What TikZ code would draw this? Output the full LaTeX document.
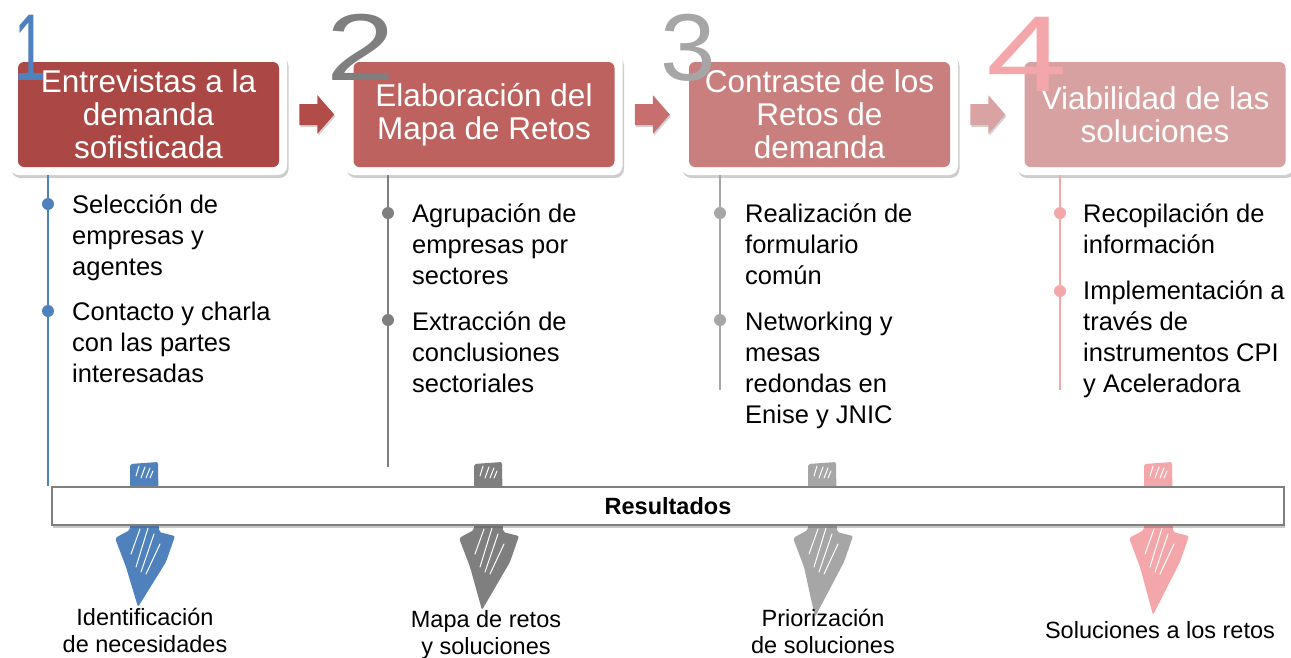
\documentclass[tikz,border=0pt]{standalone}
\usepackage{fontspec}
\setmainfont{Liberation Sans}
\usetikzlibrary{shadows,calc}
\definecolor{cBlue}{HTML}{4F81BD}
\definecolor{cGrayA}{HTML}{7F7F7F}
\definecolor{cGrayB}{HTML}{A6A6A6}
\definecolor{cPink}{HTML}{F4A7AA}
\definecolor{boxA}{HTML}{AB4744}
\definecolor{boxB}{HTML}{BD625F}
\definecolor{boxC}{HTML}{C97F7E}
\definecolor{boxD}{HTML}{D8A1A1}
\definecolor{arrA}{HTML}{B24C49}
\definecolor{arrB}{HTML}{C66F6E}
\definecolor{arrC}{HTML}{D9A2A3}
\tikzset{
  frame/.style={rectangle, rounded corners=9pt, fill=white, minimum width=277pt, minimum height=121pt, inner sep=0pt,
    drop shadow={shadow xshift=1.5pt, shadow yshift=-3pt, opacity=0.28, fill=black!70}},
  stepbox/.style={rectangle, rounded corners=6pt, minimum width=261pt, minimum height=105pt, inner sep=0pt,
    text=white, align=center, font=\fontsize{31.5}{33}\selectfont},
  bullettext/.style={anchor=base west, align=left, inner sep=0pt, font=\fontsize{25.5}{31}\selectfont},
  numtext/.style={anchor=base, inner sep=0pt, font=\fontsize{95}{95}\selectfont},
  blockarrow/.style={drop shadow={shadow xshift=1pt, shadow yshift=-2pt, opacity=0.25, fill=black!70}},
  resultlabel/.style={anchor=base, align=center, inner sep=0pt, font=\fontsize{23.5}{27}\selectfont},
  tline/.style={line width=1.5pt},
}
\begin{document}
\begin{tikzpicture}[x=1pt,y=-1pt]
\useasboundingbox (0,0) rectangle (1291,657);

% ---- sketch arrows (behind the bar)
\foreach \cx/\tipx/\tipy/\col in {144/138/607/cBlue, 488/482/610/cGrayA, 822/815/617/cGrayB, 1158/1153/615/cPink}{
  \coordinate (d) at (\cx,462);
  \fill[\col, rounded corners=2pt] ($(d)+(-14,2)$) -- ($(d)+(14,0)$) -- ($(d)+(15,70)$) -- ($(d)+(31,74)$)
     -- ($(d)+(22,100)$) -- (\tipx,\tipy) -- ($(d)+(-18,105)$) -- ($(d)+(-29,76)$) -- ($(d)+(-14,68)$) -- cycle;
  \draw[white, line width=1pt, line cap=round]
     ($(d)+(-8,14)$) -- ($(d)+(-5,4)$)
     ($(d)+(-3,16)$) -- ($(d)+(1,5)$)
     ($(d)+(2,16)$) -- ($(d)+(6,6)$)
     ($(d)+(6,16)$) -- ($(d)+(9,9)$)
     ($(d)+(-8,105)$) -- ($(d)+(4,66)$)
     ($(d)+(-3,110)$) -- ($(d)+(10,72)$)
     ($(d)+(2,112)$) -- ($(d)+(16,82)$)
     ($(d)+(-13,92)$) -- ($(d)+(-4,67)$);
}

% ---- step boxes
\node[frame] (f1) at (148.5,114.5) {};
\node[frame] (f2) at (484,114.5) {};
\node[frame] (f3) at (819.5,114.5) {};
\node[frame] (f4) at (1155,114.5) {};
\node[stepbox, fill=boxA] (b1) at (f1) {Entrevistas a la\\demanda\\sofisticada};
\node[stepbox, fill=boxB] (b2) at (f2) {Elaboración del\\Mapa de Retos};
\node[stepbox, fill=boxC] (b3) at (f3) {Contraste de los\\Retos de\\demanda};
\node[stepbox, fill=boxD] (b4) at (f4) {Viabilidad de las\\soluciones};

% ---- block arrows between boxes
\foreach \a/\b/\col in {f1/f2/arrA, f2/f3/arrB, f3/f4/arrC}{
  \coordinate (m) at ($(\a.east)!0.5!(\b.west)$);
  \fill[\col, blockarrow] ($(m)+(-17,-10.5)$) -- ($(m)+(1,-10.5)$) -- ($(m)+(1,-19.5)$) -- ($(m)+(18,0)$)
     -- ($(m)+(1,19.5)$) -- ($(m)+(1,10.5)$) -- ($(m)+(-17,10.5)$) -- cycle;
}

% ---- handwritten step numbers
\node[numtext, text=cBlue, xscale=0.6] (n1) at (30,80) {1};
\node[numtext, text=cGrayA, xscale=1.3] (n2) at (361,80) {2};
\node[numtext, text=cGrayB, xscale=1.05] (n3) at (688,80) {3};
\node[numtext, text=cPink, xscale=1.35, font=\fontsize{108}{108}\selectfont] (n4) at (1027,91) {4};

% ---- timelines
\coordinate (l1a) at (48,175); \coordinate (l1b) at (48,486);
\coordinate (l2a) at (388,175); \coordinate (l2b) at (388,467);
\coordinate (l3a) at (720,175); \coordinate (l3b) at (720,390);
\coordinate (l4a) at (1060,175); \coordinate (l4b) at (1060,390);
\draw[tline, cBlue] (l1a) -- (l1b);
\draw[tline, cGrayA] (l2a) -- (l2b);
\draw[tline, cGrayB] (l3a) -- (l3b);
\draw[tline, cPink] (l4a) -- (l4b);
\fill[cBlue] (48,204) circle (6) (48,311) circle (6);
\fill[cGrayA] (388,213) circle (6) (388,320) circle (6);
\fill[cGrayB] (720,213) circle (6) (720,320) circle (6);
\fill[cPink] (1060,213) circle (6) (1060,291) circle (6);

% ---- bullet texts (anchored at the baseline of the last line)
\node[bullettext] (t11) at (72,275) {Selección de\\empresas y\\agentes};
\node[bullettext] (t12) at (72,382) {Contacto y charla\\con las partes\\interesadas};
\node[bullettext] (t21) at (412,284) {Agrupación de\\empresas por\\sectores};
\node[bullettext] (t22) at (412,392) {Extracción de\\conclusiones\\sectoriales};
\node[bullettext] (t31) at (745,284) {Realización de\\formulario\\común};
\node[bullettext] (t32) at (745,423) {Networking y\\mesas\\redondas en\\Enise y JNIC};
\node[bullettext] (t41) at (1083,253) {Recopilación de\\información};
\node[bullettext] (t42) at (1083,392) {Implementación a\\través de\\instrumentos CPI\\y Aceleradora};

% ---- results bar
\node[draw=cGrayA, line width=1.5pt, fill=white, minimum width=1232pt, minimum height=38pt, inner sep=0pt,
  font=\bfseries\fontsize{23.5}{26}\selectfont,
  drop shadow={shadow xshift=1pt, shadow yshift=-2.5pt, opacity=0.3, fill=black!70}] (res) at (668,506) {Resultados};

% ---- result labels (anchored at the baseline of the last line)
\node[resultlabel] (r1) at (145,652) {Identificación\\de necesidades};
\node[resultlabel] (r2) at (486,654) {Mapa de retos\\y soluciones};
\node[resultlabel] (r3) at (823,653) {Priorización\\de soluciones};
\node[resultlabel] (r4) at (1160,638) {Soluciones a los retos};
\end{tikzpicture}
\end{document}
